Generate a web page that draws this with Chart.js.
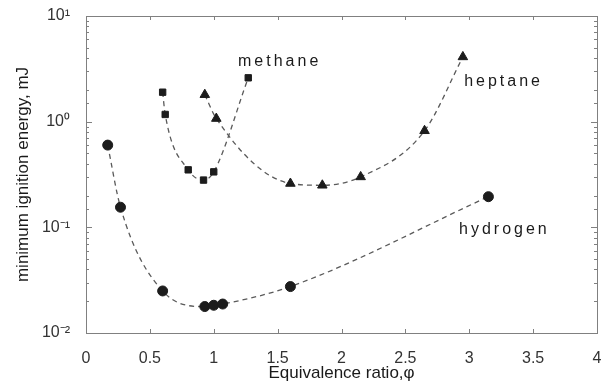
<!DOCTYPE html>
<html>
<head>
<meta charset="utf-8">
<script src="https://cdn.jsdelivr.net/npm/chart.js@4.4.0/dist/chart.umd.min.js"></script>
<style>
  html, body { margin: 0; padding: 0; background: #fff; }
  #wrap { width: 604px; height: 387px; }
</style>
</head>
<body>
<div id="wrap"><canvas id="myChart"></canvas></div>
<script>
// values
const hydrogenPhi = [0.17, 0.27, 0.6, 0.93, 1.0, 1.07, 1.6, 3.15];
const hydrogenMIE = [0.6, 0.155, 0.025, 0.0178, 0.0183, 0.0188, 0.0275, 0.195];

const methanePhi = [0.6, 0.62, 0.8, 0.92, 1.0, 1.27];
const methaneMIE = [1.9, 1.17, 0.35, 0.28, 0.335, 2.6];

const heptanePhi = [0.93, 1.02, 1.6, 1.85, 2.15, 2.65, 2.95];
const heptaneMIE = [1.8, 1.07, 0.26, 0.25, 0.3, 0.82, 4.1];

const yTickLabels = {'10': '10¹', '1': '10⁰', '0.1': '10⁻¹', '0.01': '10⁻²'};
const xTicks = [0, 0.5, 1, 1.5, 2, 2.5, 3, 3.5, 4];

// curve names, anchored in data units
const curveNames = [
    {text: 'methane', x: 1.19, y: 3.7},
    {text: 'heptane', x: 2.96, y: 2.4},
    {text: 'hydrogen', x: 2.92, y: 0.095}
];

function toPoints(xs, ys) {
    return xs.map((x, i) => ({x: x, y: ys[i]}));
}

function series(label, xs, ys, style, radius) {
    return {
        label: label,
        data: toPoints(xs, ys),
        showLine: true,
        cubicInterpolationMode: 'monotone',
        borderColor: '#5a5a5a',
        borderWidth: 1.3,
        borderDash: [5, 4],
        pointStyle: style,
        pointRadius: radius,
        pointBackgroundColor: '#1c1c1c',
        pointBorderColor: '#1c1c1c',
        pointBorderWidth: 1
    };
}

// frame, inward ticks and curve names
const decorations = {
    id: 'decorations',
    afterDraw(chart) {
        const ctx = chart.ctx;
        const a = chart.chartArea;
        const xs = chart.scales.x, ys = chart.scales.y;
        ctx.save();
        ctx.strokeStyle = '#808080';
        ctx.lineWidth = 1;
        ctx.strokeRect(a.left + 0.5, a.top + 0.5, a.right - a.left, a.bottom - a.top);

        ctx.beginPath();
        xTicks.forEach(v => {
            const px = Math.round(xs.getPixelForValue(v)) + 0.5;
            ctx.moveTo(px, a.bottom); ctx.lineTo(px, a.bottom - 4);
            ctx.moveTo(px, a.top); ctx.lineTo(px, a.top + 4);
        });
        ys.ticks.forEach(t => {
            const major = yTickLabels[String(t.value)] !== undefined;
            const len = major ? 6 : 3;
            const py = Math.round(ys.getPixelForValue(t.value)) + 0.5;
            ctx.moveTo(a.left, py); ctx.lineTo(a.left + len, py);
            ctx.moveTo(a.right, py); ctx.lineTo(a.right - len, py);
        });
        ctx.stroke();

        ctx.fillStyle = '#1a1a1a';
        ctx.font = '16px "Liberation Sans", Arial, sans-serif';
        ctx.letterSpacing = '3px';
        ctx.textBaseline = 'middle';
        curveNames.forEach(n => {
            ctx.fillText(n.text, xs.getPixelForValue(n.x), ys.getPixelForValue(n.y));
        });
        ctx.restore();
    }
};

const ctx = document.getElementById('myChart').getContext('2d');
new Chart(ctx, {
    type: 'scatter',
    data: {
        datasets: [
            series('hydrogen', hydrogenPhi, hydrogenMIE, 'circle', 5),
            series('methane', methanePhi, methaneMIE, 'rect', 4.5),
            series('heptane', heptanePhi, heptaneMIE, 'triangle', 5.5)
        ]
    },
    options: {
        responsive: true,
        maintainAspectRatio: false,
        animation: false,
        layout: { padding: { top: 16, right: 7, left: 0, bottom: 0 } },
        plugins: {
            legend: { display: false },
            tooltip: { enabled: false }
        },
        scales: {
            x: {
                type: 'linear',
                min: 0,
                max: 4,
                afterFit: s => { s.height = 54; s.paddingLeft = 0; s.paddingRight = 0; },
                afterBuildTicks: s => { s.ticks = xTicks.map(v => ({value: v})); },
                grid: { display: false },
                border: { display: false },
                ticks: {
                    padding: 8,
                    color: '#333',
                    font: { family: '"Liberation Sans", Arial, sans-serif', size: 16 },
                    maxRotation: 0,
                    autoSkip: false,
                    callback: v => String(v)
                },
                title: {
                    display: true,
                    text: 'Equivalence ratio,φ',
                    color: '#1a1a1a',
                    font: { family: '"Liberation Sans", Arial, sans-serif', size: 17 },
                    padding: { top: 0, bottom: 3 }
                }
            },
            y: {
                type: 'logarithmic',
                min: 0.01,
                max: 10,
                afterFit: s => { s.width = 86; s.paddingTop = 0; s.paddingBottom = 0; },
                grid: { display: false },
                border: { display: false },
                ticks: {
                    padding: 8,
                    color: '#333',
                    autoSkip: false,
                    font: { family: '"Liberation Sans", Arial, sans-serif', size: 16 },
                    callback: v => yTickLabels[String(v)] || ''
                },
                title: {
                    display: true,
                    text: 'minimum ignition energy, mJ',
                    color: '#1a1a1a',
                    font: { family: '"Liberation Sans", Arial, sans-serif', size: 17 },
                    padding: { top: 13, bottom: 0 }
                }
            }
        }
    },
    plugins: [decorations]
});
</script>
</body>
</html>
